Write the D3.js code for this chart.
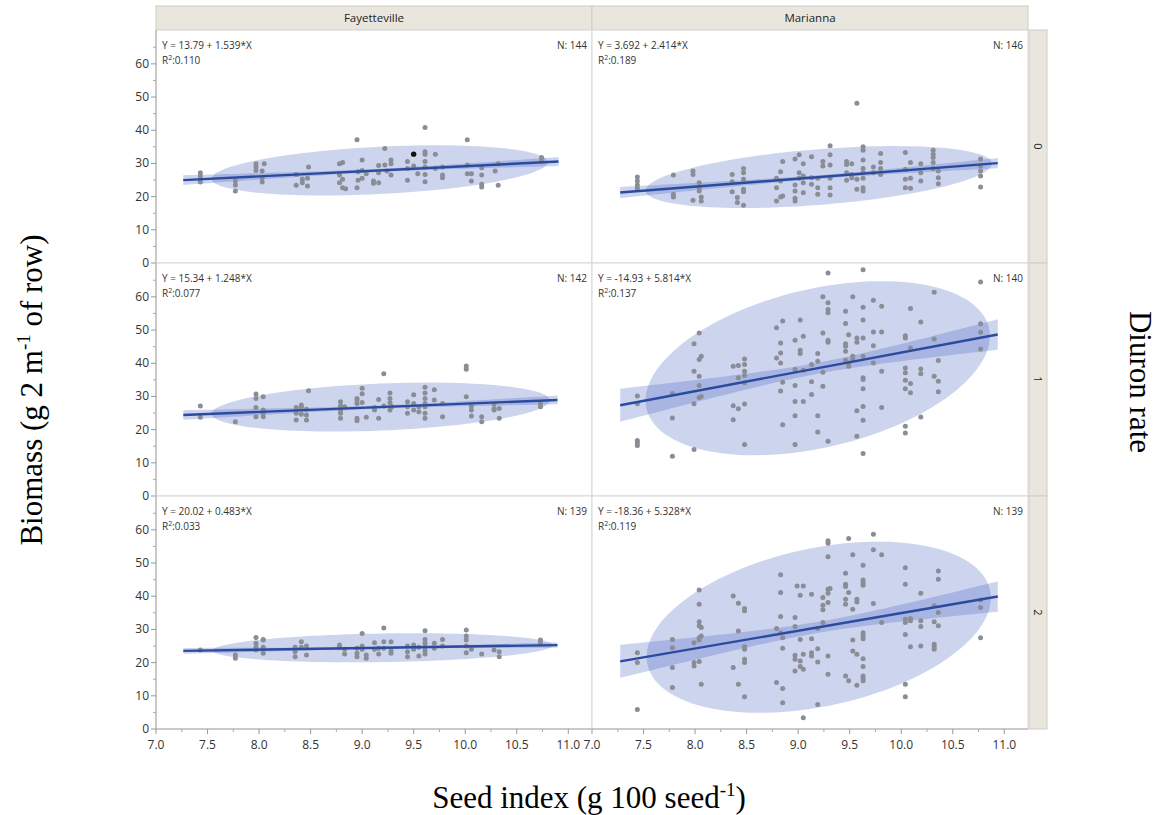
<!DOCTYPE html>
<html><head><meta charset="utf-8">
<script src="https://cdn.jsdelivr.net/npm/d3@7"></script>
<style>body{margin:0;background:#fff}</style>
</head><body>
<svg id="c" width="1175" height="815"></svg>
<script>
// ---------- DATA ----------
const locations = ["Fayetteville", "Marianna"];
const rates = ["0", "1", "2"];

const fay0 = [[7.43,27.2],[7.43,26.2],[7.43,25.2],[7.43,24.4],[7.77,24.7],[7.77,23.5],[7.77,21.7],
[7.97,29.9],[7.97,28.9],[7.97,27.9],[8.03,27.7],[8.03,25.7],[8.03,24.4],[8.05,29.9],
[8.36,26.7],[8.36,23.4],[8.42,25.2],[8.42,24.2],[8.47,25.5],[8.47,23.2],[8.48,28.9],
[8.78,29.9],[8.78,26.5],[8.78,24.2],[8.81,30.3],[8.81,25.2],[8.81,22.7],[8.84,22.4],
[8.95,37.1],[8.95,22.7],[8.96,27.5],[8.96,24.9],[9.0,31.0],[9.0,27.9],[9.0,25.5],[9.04,26.9],
[9.11,24.7],[9.11,24.0],[9.16,29.4],[9.16,27.2],[9.16,24.2],[9.22,34.5],[9.22,29.5],[9.24,27.7],
[9.28,31.0],[9.28,29.9],[9.28,26.5],[9.44,30.6],[9.44,28.5],[9.44,24.9],[9.50,29.2],[9.54,26.9],
[9.61,40.8],[9.61,33.5],[9.61,32.8],[9.61,30.6],[9.61,28.9],[9.61,26.7],[9.61,24.5],
[9.71,32.8],[9.71,28.5],[9.78,28.9],[9.78,26.5],[9.78,25.7],
[10.02,37.1],[10.02,29.5],[10.02,26.9],[10.06,26.9],[10.06,24.7],
[10.16,28.7],[10.16,26.5],[10.16,23.7],[10.16,22.9],[10.29,27.7],[10.32,29.9],[10.32,23.4],
[10.74,31.8],[10.74,30.8]];
const fay0Selected = [[9.50,32.8]];

const fay1 = [[7.43,27.1],[7.43,23.7],[7.77,22.4],[7.97,30.7],[7.97,29.4],[7.97,26.7],[7.97,23.9],
[8.04,29.9],[8.04,25.9],[8.04,24.9],[8.04,23.9],[8.36,26.7],[8.36,25.9],[8.36,24.9],[8.36,22.9],
[8.41,27.4],[8.41,26.7],[8.41,24.6],[8.46,26.1],[8.46,24.4],[8.46,22.9],[8.48,31.7],
[8.79,28.4],[8.79,27.1],[8.79,25.9],[8.79,24.9],[8.79,23.4],[8.83,26.9],
[8.95,29.4],[8.95,28.9],[8.95,27.9],[8.95,23.4],[8.95,22.7],[9.0,32.5],[9.0,30.8],[9.0,28.2],[9.04,23.7],
[9.12,26.7],[9.12,25.9],[9.16,29.1],[9.16,23.4],[9.21,36.8],[9.21,27.1],
[9.27,31.0],[9.27,29.4],[9.27,28.1],[9.27,25.9],[9.29,26.9],
[9.44,28.4],[9.44,26.9],[9.44,24.9],[9.50,30.5],[9.50,27.9],[9.50,25.9],[9.55,26.9],[9.55,25.4],
[9.61,32.8],[9.61,31.0],[9.61,29.4],[9.61,27.9],[9.61,26.9],[9.61,24.9],[9.61,23.4],
[9.70,32.0],[9.70,28.9],[9.78,27.9],[9.78,23.9],
[10.01,39.2],[10.01,38.2],[10.01,29.9],[10.06,27.1],[10.06,25.9],[10.06,24.1],
[10.16,23.9],[10.16,22.4],[10.28,27.7],[10.28,26.4],[10.28,25.9],[10.33,26.4],[10.33,23.4],
[10.73,27.9],[10.73,26.9]];

const fay2 = [[7.43,23.8],[7.77,22.3],[7.77,21.3],[7.97,27.6],[7.97,25.8],[7.97,24.6],[7.97,23.8],
[8.04,27.0],[8.04,26.8],[8.04,24.6],[8.04,22.8],[8.35,24.6],[8.35,23.3],[8.35,21.8],
[8.41,26.3],[8.41,24.6],[8.46,25.0],[8.46,22.3],[8.78,25.3],[8.78,24.6],[8.83,24.0],[8.83,22.6],
[8.95,24.3],[8.95,22.8],[8.95,21.8],[9.0,28.8],[9.0,25.0],[9.0,24.0],[9.04,22.3],[9.04,21.3],
[9.12,26.0],[9.12,24.0],[9.16,24.3],[9.16,22.6],[9.21,30.4],[9.21,26.3],[9.21,24.3],
[9.28,26.3],[9.28,23.6],[9.28,22.8],[9.44,25.0],[9.44,23.3],[9.44,21.8],[9.50,25.3],[9.50,24.0],
[9.55,24.6],[9.55,22.0],[9.61,29.6],[9.61,27.0],[9.61,25.8],[9.61,24.6],[9.61,23.6],[9.61,22.6],
[9.70,25.8],[9.70,24.3],[9.78,27.0],[9.78,25.0],
[10.01,29.8],[10.01,28.0],[10.01,26.8],[10.01,25.0],[10.01,23.0],[10.06,24.0],
[10.16,22.6],[10.28,23.8],[10.33,23.3],[10.33,21.8],[10.73,26.8],[10.73,26.0]];

const mar0 = [[7.44,25.9],[7.44,24.7],[7.44,23.5],[7.44,22.5],[7.79,26.5],[7.79,20.7],[7.79,19.9],
[7.98,27.7],[7.98,26.7],[7.98,18.9],[8.04,24.2],[8.04,22.7],[8.04,21.7],[8.06,19.9],[8.06,18.7],
[8.36,26.7],[8.36,24.5],[8.36,21.5],[8.41,19.7],[8.41,18.2],
[8.47,28.5],[8.47,27.2],[8.47,25.2],[8.47,22.2],[8.47,21.5],[8.47,17.4],
[8.79,25.5],[8.79,22.7],[8.79,18.7],[8.83,27.5],[8.83,24.7],[8.83,19.9],[8.85,30.6],[8.85,20.2],
[8.97,31.3],[8.97,23.5],[8.97,21.7],[8.97,19.5],[8.97,18.7],
[9.01,32.6],[9.01,27.2],[9.01,25.5],[9.05,29.9],[9.05,26.2],[9.05,24.2],[9.05,21.2],
[9.13,32.0],[9.13,25.7],[9.13,23.7],[9.19,25.5],[9.19,22.7],[9.19,20.7],[9.24,30.6],[9.24,29.2],
[9.31,35.3],[9.31,32.6],[9.31,29.5],[9.31,25.5],[9.31,22.7],[9.31,20.5],
[9.47,30.6],[9.47,29.7],[9.47,27.2],[9.47,24.9],[9.52,29.9],[9.52,26.7],[9.52,25.7],
[9.57,48.1],[9.57,25.2],[9.57,22.2],
[9.63,35.0],[9.63,34.0],[9.63,31.0],[9.63,28.5],[9.63,27.2],[9.63,25.5],[9.63,22.7],[9.63,21.7],
[9.73,28.9],[9.73,27.2],[9.80,33.0],[9.80,30.3],[9.80,28.5],[9.80,26.7],
[10.04,33.3],[10.04,28.2],[10.04,25.2],[10.04,22.7],[10.09,30.3],[10.09,25.5],[10.09,22.5],
[10.19,29.9],[10.19,27.2],[10.19,24.7],
[10.31,34.0],[10.31,32.8],[10.31,31.8],[10.31,30.3],[10.31,28.5],[10.36,27.7],[10.36,25.7],[10.36,23.9],
[10.77,31.3],[10.77,29.2],[10.77,27.7],[10.77,26.2],[10.77,22.9]];

const mar1 = [[7.44,30.1],[7.44,27.8],[7.44,16.7],[7.44,16.0],[7.44,15.2],
[7.78,30.9],[7.78,23.5],[7.78,12.0],[7.99,45.9],[7.99,37.6],[7.99,27.8],[7.99,14.0],
[8.04,49.1],[8.04,41.1],[8.04,36.1],[8.04,33.3],[8.04,29.7],[8.06,42.1],[8.06,30.0],
[8.37,39.1],[8.37,27.2],[8.37,23.0],[8.42,39.3],[8.42,35.6],[8.42,26.3],
[8.48,41.3],[8.48,39.6],[8.48,37.6],[8.48,36.3],[8.48,34.1],[8.48,27.7],[8.48,15.5],
[8.79,50.7],[8.79,41.6],[8.83,46.1],[8.83,43.1],[8.83,40.1],[8.83,31.6],[8.85,52.7],[8.85,34.3],[8.85,21.5],
[8.97,46.9],[8.97,38.1],[8.97,33.3],[8.97,28.5],[8.97,24.2],[8.97,15.5],
[9.02,53.0],[9.02,43.9],[9.02,42.9],[9.05,48.1],[9.05,37.9],[9.05,28.5],
[9.13,39.6],[9.13,34.4],[9.13,30.6],[9.19,42.9],[9.19,40.6],[9.19,24.2],[9.19,19.3],
[9.24,60.0],[9.24,49.1],[9.24,37.3],[9.24,33.1],
[9.29,67.2],[9.29,58.2],[9.29,56.2],[9.29,55.2],[9.29,46.9],[9.29,46.3],[9.29,16.5],
[9.46,55.7],[9.46,52.0],[9.46,45.9],[9.46,45.1],[9.46,43.6],[9.46,40.9],
[9.49,48.6],[9.49,40.1],[9.49,39.1],[9.53,60.0],[9.53,42.1],[9.53,41.1],
[9.57,47.6],[9.57,46.3],[9.57,25.7],[9.57,18.0],
[9.63,68.2],[9.63,56.9],[9.63,53.0],[9.63,47.6],[9.63,42.1],[9.63,35.6],[9.63,35.1],[9.63,32.3],[9.63,27.0],[9.63,22.8],[9.63,12.8],
[9.73,59.0],[9.73,49.4],[9.73,45.3],[9.73,40.1],[9.81,57.2],[9.81,49.4],[9.81,37.6],[9.81,26.7],
[10.04,48.3],[10.04,47.6],[10.04,38.6],[10.04,37.1],[10.04,34.9],[10.04,32.3],[10.04,21.0],[10.04,19.0],
[10.09,56.5],[10.09,44.6],[10.09,33.9],[10.09,31.1],[10.19,52.4],[10.19,38.3],[10.19,36.8],[10.19,23.8],
[10.32,61.4],[10.32,47.3],[10.32,36.1],[10.36,40.8],[10.36,34.6],[10.36,31.4],
[10.77,64.5],[10.77,51.9],[10.77,49.3],[10.77,44.3]];

const mar2 = [[7.44,23.0],[7.44,20.0],[7.44,5.9],[7.78,27.0],[7.78,24.5],[7.78,18.5],[7.78,12.5],
[7.99,26.0],[7.99,20.0],[7.99,19.0],
[8.04,41.9],[8.04,37.6],[8.04,32.3],[8.04,31.1],[8.04,27.5],[8.04,26.8],[8.04,20.3],
[8.06,30.6],[8.06,28.0],[8.06,13.5],[8.37,40.1],[8.37,18.5],[8.42,37.9],[8.42,29.5],[8.42,13.5],
[8.48,36.3],[8.48,35.6],[8.48,24.8],[8.48,24.0],[8.48,21.0],[8.48,20.0],[8.48,9.7],
[8.79,30.3],[8.79,14.0],[8.83,46.5],[8.83,41.1],[8.83,33.9],[8.83,29.0],
[8.85,27.5],[8.85,24.3],[8.85,12.2],[8.85,7.9],
[8.97,33.6],[8.97,30.9],[8.97,22.2],[8.97,21.0],[8.97,17.5],[8.99,43.1],
[9.02,40.3],[9.02,27.0],[9.02,20.5],[9.02,18.8],[9.05,43.1],[9.05,22.5],[9.05,18.0],[9.05,3.4],
[9.13,40.6],[9.13,27.2],[9.13,23.0],[9.13,22.0],[9.19,30.3],[9.19,24.2],[9.19,20.2],[9.19,7.4],
[9.24,39.6],[9.24,37.3],[9.24,35.9],[9.24,32.1],
[9.29,56.7],[9.29,56.0],[9.29,51.9],[9.29,42.1],[9.29,40.9],[9.29,38.1],[9.29,22.0],[9.29,16.5],[9.31,42.3],
[9.46,46.9],[9.46,43.6],[9.46,42.9],[9.46,39.1],[9.46,37.6],[9.46,16.0],
[9.49,57.4],[9.49,41.1],[9.49,14.5],[9.53,52.5],[9.53,36.1],[9.53,26.8],[9.53,23.5],
[9.57,39.1],[9.57,38.3],[9.57,22.5],[9.57,13.2],
[9.63,49.3],[9.63,44.9],[9.63,44.1],[9.63,43.3],[9.63,29.0],[9.63,28.2],[9.63,27.2],[9.63,21.2],[9.63,18.8],[9.63,16.0],[9.63,15.2],[9.63,14.5],
[9.73,58.7],[9.73,54.0],[9.73,37.8],[9.81,52.5],[9.81,32.1],
[10.04,48.6],[10.04,43.6],[10.04,33.1],[10.04,32.1],[10.04,28.5],[10.04,13.5],[10.04,9.7],
[10.09,33.3],[10.09,32.6],[10.09,24.8],[10.19,40.9],[10.19,32.6],[10.19,30.9],[10.19,25.0],
[10.32,37.1],[10.32,32.3],[10.32,25.5],[10.32,24.8],[10.32,24.0],
[10.36,47.6],[10.36,45.1],[10.36,35.1],[10.36,31.1],[10.77,38.9],[10.77,36.6],[10.77,27.5]];

// fit statistics as printed in each panel [row][column]
const intercepts = [[13.79, 3.692], [15.34, -14.93], [20.02, -18.36]];
const slopes     = [[1.539, 2.414], [1.248, 5.814], [0.483, 5.328]];
const rsq        = [[0.110, 0.189], [0.077, 0.137], [0.033, 0.119]];
const nObs       = [[144, 146], [142, 140], [139, 139]];
const interceptLabels = [["13.79", "3.692"], ["15.34", "-14.93"], ["20.02", "-18.36"]];
const slopeLabels     = [["1.539", "2.414"], ["1.248", "5.814"], ["0.483", "5.328"]];
const rsqLabels       = [["0.110", "0.189"], ["0.077", "0.137"], ["0.033", "0.119"]];
// density ellipse: x centre and x half-width
const ellCx = [[9.17, 9.20], [9.18, 9.19], [9.20, 9.20]];
const ellHx = [[1.63, 1.68], [1.64, 1.67], [1.65, 1.67]];

const xTickValues = [7.0, 7.5, 8.0, 8.5, 9.0, 9.5, 10.0, 10.5, 11.0];
const xMinorValues = [7.25, 7.75, 8.25, 8.75, 9.25, 9.75, 10.25, 10.75];
const yTickValues = [0, 10, 20, 30, 40, 50, 60];
const yMinorValues = [5, 15, 25, 35, 45, 55, 65];

const panelData = [[fay0, mar0], [fay1, mar1], [fay2, mar2]];

// ---------- LAYOUT ----------
const svg = d3.select("#c");
const L = 156, T = 30, colW = 436, rowH = 233;
const stripTop = 6, stripW = 18;
const x = d3.scaleLinear().domain([7.0, 11.23]).range([0, colW]);
const y = d3.scaleLinear().domain([0, 70.2]).range([rowH, 0]);

const tickFont = "'Open Sans', 'Noto Sans', sans-serif";
const ellipseFill = "rgba(60,90,190,0.26)";
const chi = Math.sqrt(5.991);

// top strip
locations.forEach((loc, c) => {
  const g = svg.append("g").attr("transform", `translate(${L + c * colW},${stripTop})`);
  g.append("rect").attr("width", colW).attr("height", T - stripTop)
    .attr("fill", "#e9e7dd").attr("stroke", "#cfccc2");
  g.append("text").attr("x", colW / 2).attr("y", (T - stripTop) / 2 + 4)
    .attr("text-anchor", "middle").attr("font-family", tickFont).attr("font-size", 11.5)
    .attr("fill", "#222").text(loc);
});
// right strip
rates.forEach((r, i) => {
  const g = svg.append("g").attr("transform", `translate(${L + 2 * colW + 1},${T + i * rowH})`);
  g.append("rect").attr("width", stripW).attr("height", rowH)
    .attr("fill", "#e9e7dd").attr("stroke", "#cfccc2");
  g.append("text").attr("transform", `translate(${stripW / 2 - 4},${rowH / 2}) rotate(90)`)
    .attr("text-anchor", "middle").attr("font-family", tickFont).attr("font-size", 11)
    .attr("fill", "#222").text(r);
});

const clipId = "pclip";
svg.append("clipPath").attr("id", clipId).append("rect").attr("width", colW).attr("height", rowH);

for (let r = 0; r < 3; r++) {
  for (let c = 0; c < 2; c++) {
    const data = panelData[r][c];
    const a = intercepts[r][c], b = slopes[r][c], R2 = rsq[r][c], n = nObs[r][c];
    const g = svg.append("g").attr("transform", `translate(${L + c * colW},${T + r * rowH})`);
    g.append("rect").attr("width", colW).attr("height", rowH).attr("fill", "#fff")
      .attr("stroke", "#d6d6d6");
    const body = g.append("g").attr("clip-path", `url(#${clipId})`);

    // ellipse statistics
    const rr = Math.sqrt(R2) * Math.sign(b);
    const cx = ellCx[r][c], hx = ellHx[r][c];
    const cy = a + b * cx;
    const hy = b * hx / rr;
    const pts = d3.range(0, 121).map(k => {
      const t = k / 120 * 2 * Math.PI;
      return [cx + hx * Math.cos(t), cy + hy * (rr * Math.cos(t) + Math.sqrt(1 - rr * rr) * Math.sin(t))];
    });
    body.append("path").attr("d", d3.line().x(d => x(d[0])).y(d => y(d[1]))(pts))
      .attr("fill", ellipseFill);

    // fit range: data extent padded 5%
    const [xmin, xmax] = d3.extent(data, d => d[0]);
    const pad = (xmax - xmin) * 0.05;
    const x0 = xmin - pad, x1 = xmax + pad;
    const sdx = hx / chi, sdy = hy / chi;
    const s = sdy * Math.sqrt(1 - rr * rr);
    const Sxx = (n - 1) * sdx * sdx;
    const tq = 1.977;
    const band = d3.range(0, 61).map(k => {
      const xv = x0 + (x1 - x0) * k / 60;
      const se = s * Math.sqrt(1 / n + (xv - cx) ** 2 / Sxx);
      const f = a + b * xv;
      return [xv, f - tq * se, f + tq * se];
    });
    body.append("path").attr("d", d3.area().x(d => x(d[0])).y0(d => y(d[1])).y1(d => y(d[2]))(band))
      .attr("fill", ellipseFill);

    body.selectAll("circle.pt").data(data).join("circle").attr("class", "pt")
      .attr("cx", d => x(d[0])).attr("cy", d => y(d[1])).attr("r", 2.5)
      .attr("fill", "#8a8d95");
    if (r === 0 && c === 0) {
      body.selectAll("circle.sel").data(fay0Selected).join("circle").attr("class", "sel")
        .attr("cx", d => x(d[0])).attr("cy", d => y(d[1])).attr("r", 2.7).attr("fill", "#111");
    }

    body.append("line").attr("x1", x(x0)).attr("x2", x(x1))
      .attr("y1", y(a + b * x0)).attr("y2", y(a + b * x1))
      .attr("stroke", "#2a4b9e").attr("stroke-width", 2.4);

    // annotations
    const ann = g.append("g").attr("font-family", tickFont).attr("font-size", 10).attr("fill", "#333");
    ann.append("text").attr("x", 6).attr("y", 19)
      .text(`Y = ${interceptLabels[r][c]} + ${slopeLabels[r][c]}*X`);
    const t2 = ann.append("text").attr("x", 6).attr("y", 34);
    t2.append("tspan").text("R");
    t2.append("tspan").attr("dy", -4).attr("font-size", 7).text("2");
    t2.append("tspan").attr("dy", 4).text(`:${rsqLabels[r][c]}`);
    ann.append("text").attr("x", colW - 5).attr("y", 19).attr("text-anchor", "end")
      .text(`N: ${n}`);

    // y axis on left column
    if (c === 0) {
      const ax = g.append("g");
      ax.append("line").attr("x1", 0).attr("x2", 0).attr("y1", 0).attr("y2", rowH).attr("stroke", "#a8a8a8");
      ax.selectAll("line.mj").data(yTickValues).join("line").attr("class", "mj")
        .attr("x1", -5).attr("x2", 0).attr("y1", d => y(d)).attr("y2", d => y(d)).attr("stroke", "#999");
      ax.selectAll("line.mn").data(yMinorValues).join("line").attr("class", "mn")
        .attr("x1", -3).attr("x2", 0).attr("y1", d => y(d)).attr("y2", d => y(d)).attr("stroke", "#aaa");
      ax.selectAll("text").data(yTickValues).join("text")
        .attr("x", -7).attr("y", d => y(d) + 4).attr("text-anchor", "end")
        .attr("font-family", tickFont).attr("font-size", 12).attr("fill", "#333").text(d => d);
    }
    // x axis on bottom row
    if (r === 2) {
      const ax = g.append("g").attr("transform", `translate(0,${rowH})`);
      ax.append("line").attr("x1", 0).attr("x2", colW).attr("stroke", "#a8a8a8");
      ax.selectAll("line.mj").data(xTickValues).join("line").attr("class", "mj")
        .attr("x1", d => x(d)).attr("x2", d => x(d)).attr("y1", 0).attr("y2", 5).attr("stroke", "#999");
      ax.selectAll("line.mn").data(xMinorValues).join("line").attr("class", "mn")
        .attr("x1", d => x(d)).attr("x2", d => x(d)).attr("y1", 0).attr("y2", 3).attr("stroke", "#aaa");
      ax.selectAll("text").data(xTickValues).join("text")
        .attr("x", d => x(d)).attr("y", 20).attr("text-anchor", "middle")
        .attr("font-family", tickFont).attr("font-size", 12).attr("fill", "#333").text(d => d.toFixed(1));
    }
  }
}

// axis titles
const serif = "'Liberation Serif', 'Times New Roman', serif";
const yt = svg.append("text").attr("transform", "translate(42,390) rotate(-90)")
  .attr("text-anchor", "middle").attr("font-family", serif).attr("font-size", 31).attr("fill", "#000");
yt.append("tspan").text("Biomass (g 2 m");
yt.append("tspan").attr("dy", -12).attr("font-size", 19).text("-1");
yt.append("tspan").attr("dy", 12).text(" of row)");

const xt = svg.append("text").attr("x", 589).attr("y", 808)
  .attr("text-anchor", "middle").attr("font-family", serif).attr("font-size", 31).attr("fill", "#000");
xt.append("tspan").text("Seed index (g 100 seed");
xt.append("tspan").attr("dy", -12).attr("font-size", 19).text("-1");
xt.append("tspan").attr("dy", 12).text(")");

svg.append("text").attr("transform", "translate(1130,382) rotate(90)")
  .attr("text-anchor", "middle").attr("font-family", serif).attr("font-size", 31).attr("fill", "#000")
  .text("Diuron rate");
</script>
</body></html>
